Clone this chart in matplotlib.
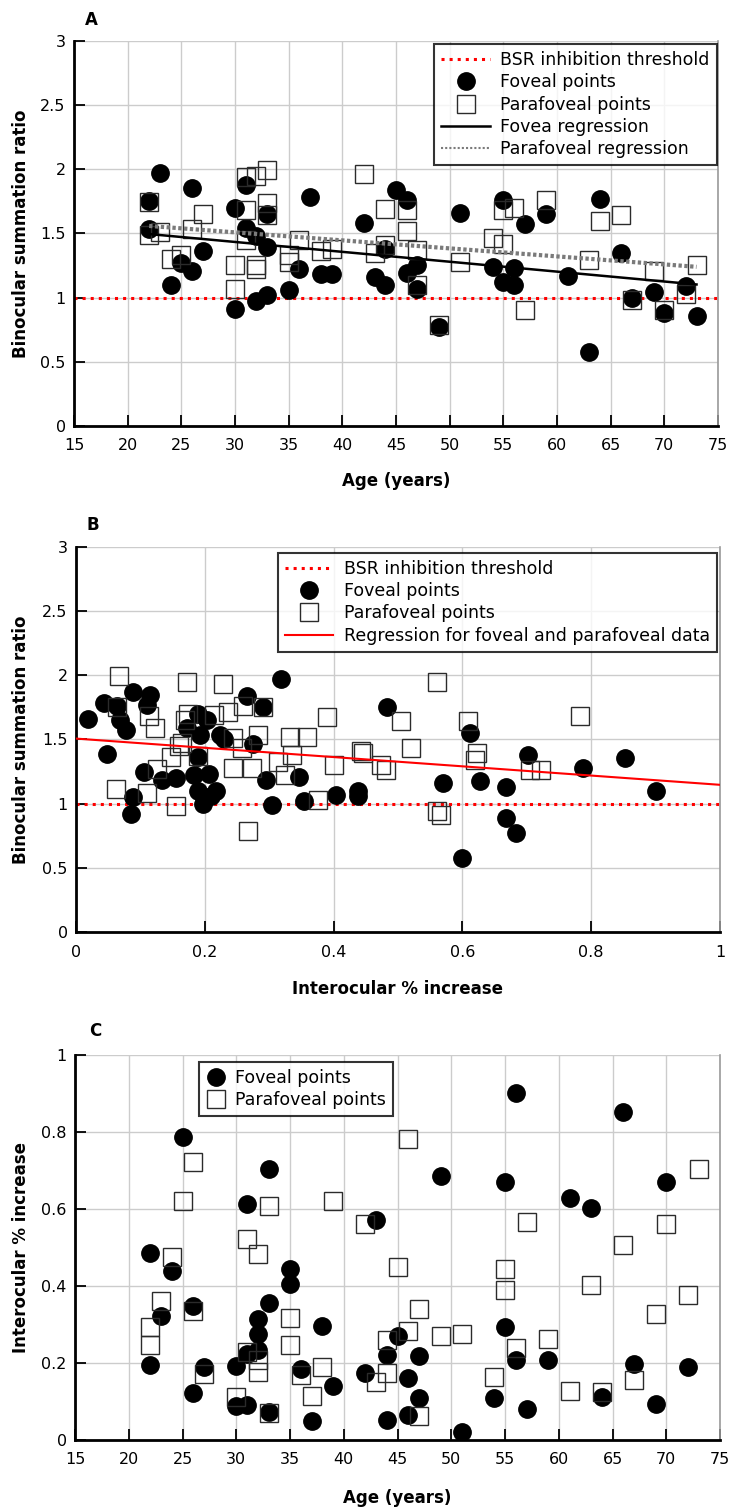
import numpy as np
import matplotlib
matplotlib.use("Agg")
import matplotlib.pyplot as plt
from matplotlib.lines import Line2D
from matplotlib.ticker import FuncFormatter

plt.rcParams['font.family'] = ['DejaVu Sans']

# ---------------- Panel A: age vs binocular summation ratio ----------------
a_fov_age = [23, 26, 22, 22, 30, 31, 33, 31, 32, 33, 27, 25, 26, 24, 30, 32, 33, 35, 36, 37,
             38, 39, 42, 43, 44, 44, 45, 46, 51, 55, 57, 59, 64, 66, 46, 47, 47, 54, 56, 55,
             56, 61, 49, 63, 67, 69, 70, 72, 73]
a_fov_bsr = [1.97, 1.85, 1.75, 1.53, 1.70, 1.875, 1.65, 1.545, 1.48, 1.39, 1.36, 1.27, 1.21, 1.10,
             0.91, 0.97, 1.02, 1.06, 1.22, 1.78, 1.18, 1.18, 1.58, 1.16, 1.10, 1.38, 1.84, 1.76,
             1.66, 1.76, 1.57, 1.65, 1.77, 1.35, 1.195, 1.25, 1.065, 1.24, 1.23, 1.125, 1.10,
             1.17, 0.77, 0.58, 1.00, 1.04, 0.88, 1.09, 0.86]
a_par_age = [22, 22, 23, 27, 26, 24, 25, 31, 32, 33, 31, 33, 33, 31, 30, 30, 32, 32, 35, 35,
             36, 38, 39, 42, 44, 44, 43, 46, 46, 47, 47, 51, 54, 55, 55, 56, 57, 59, 64, 66,
             63, 49, 67, 69, 70, 72, 73]
a_par_bsr = [1.745, 1.49, 1.51, 1.65, 1.53, 1.30, 1.33, 1.935, 1.95, 1.99, 1.68, 1.74, 1.64, 1.45,
             1.25, 1.07, 1.25, 1.22, 1.33, 1.28, 1.45, 1.36, 1.38, 1.96, 1.69, 1.41, 1.35, 1.68,
             1.52, 1.37, 1.10, 1.28, 1.46, 1.68, 1.42, 1.70, 0.90, 1.76, 1.60, 1.64, 1.29, 0.79,
             0.98, 1.21, 0.90, 1.03, 1.25]
# regression lines (intercept, slope) and age range
a_fov_reg = (1.664, -0.0077)
a_par_reg = (1.695, -0.00624)
a_reg_range = (22, 73)
bsr_threshold = 1.0

# ---------------- Panel B: interocular % increase vs BSR ----------------
b_fov_io = [0.018, 0.044, 0.063, 0.088, 0.115, 0.11, 0.069, 0.077, 0.048, 0.105, 0.089, 0.085,
            0.134, 0.156, 0.19, 0.204, 0.173, 0.192, 0.223, 0.23, 0.266, 0.29, 0.318, 0.275,
            0.189, 0.183, 0.207, 0.19, 0.218, 0.21, 0.197, 0.295, 0.346, 0.305, 0.354,
            0.483, 0.612, 0.404, 0.438, 0.438, 0.57, 0.627, 0.667, 0.702, 0.787, 0.852, 0.90,
            0.668, 0.684, 0.60]
b_fov_bsr = [1.66, 1.78, 1.76, 1.87, 1.845, 1.77, 1.65, 1.575, 1.387, 1.245, 1.05, 0.918,
             1.18, 1.20, 1.70, 1.65, 1.59, 1.53, 1.53, 1.50, 1.84, 1.755, 1.97, 1.46,
             1.36, 1.22, 1.23, 1.10, 1.10, 1.06, 1.00, 1.18, 1.21, 0.99, 1.02,
             1.755, 1.55, 1.064, 1.10, 1.06, 1.16, 1.175, 1.13, 1.38, 1.28, 1.355, 1.10,
             0.884, 0.77, 0.58]
b_par_io = [0.066, 0.172, 0.228, 0.064, 0.114, 0.122, 0.174, 0.17, 0.214, 0.236, 0.26, 0.29,
            0.164, 0.160, 0.244, 0.257, 0.283, 0.333, 0.359, 0.336, 0.148, 0.19, 0.125, 0.244,
            0.274, 0.314, 0.324, 0.062, 0.110, 0.156, 0.267, 0.376,
            0.56, 0.389, 0.505, 0.609, 0.782, 0.52, 0.443, 0.445, 0.622, 0.619, 0.40, 0.474,
            0.482, 0.705, 0.722, 0.56, 0.566]
b_par_bsr = [1.99, 1.95, 1.93, 1.75, 1.68, 1.59, 1.70, 1.65, 1.69, 1.71, 1.76, 1.75,
             1.47, 1.45, 1.51, 1.43, 1.53, 1.52, 1.52, 1.38, 1.36, 1.37, 1.27, 1.28,
             1.28, 1.32, 1.22, 1.11, 1.08, 0.98, 0.79, 1.03,
             1.95, 1.675, 1.645, 1.645, 1.683, 1.43, 1.41, 1.39, 1.39, 1.34, 1.30, 1.30,
             1.265, 1.26, 1.26, 0.94, 0.91]
b_reg = (1.506, -0.36)
b_reg_range = (0.0, 1.0)

# ---------------- Panel C: age vs interocular % increase ----------------
c_fov_age = [25, 33, 31, 43, 22, 24, 35, 35, 33, 26, 23, 32, 32, 38, 32, 31, 22, 27, 30, 36,
             42, 45, 44, 26, 39, 30, 31, 33, 37, 44,
             56, 66, 49, 55, 70, 61, 63, 47, 55, 56, 59, 67, 72, 46, 47, 46, 54, 57, 64, 69, 51]
c_fov_io = [0.788, 0.703, 0.613, 0.572, 0.485, 0.439, 0.443, 0.406, 0.356, 0.349, 0.321, 0.313,
            0.276, 0.297, 0.233, 0.224, 0.196, 0.19, 0.192, 0.185, 0.175, 0.269, 0.222, 0.121,
            0.141, 0.088, 0.092, 0.074, 0.049, 0.052,
            0.901, 0.852, 0.686, 0.669, 0.670, 0.628, 0.603, 0.218, 0.293, 0.209, 0.207, 0.198,
            0.19, 0.16, 0.11, 0.065, 0.108, 0.08, 0.112, 0.093, 0.022]
c_par_age = [26, 25, 33, 39, 42, 31, 32, 24, 23, 22, 22, 26, 35, 35, 31, 32, 32, 27, 36, 38,
             44, 44, 43, 30, 37, 33,
             46, 73, 57, 70, 66, 45, 55, 55, 63, 72, 47, 69, 46, 49, 51, 56, 59, 54, 61, 64, 67, 47]
c_par_io = [0.721, 0.620, 0.609, 0.622, 0.561, 0.521, 0.484, 0.475, 0.36, 0.293, 0.246, 0.336,
            0.316, 0.246, 0.228, 0.207, 0.177, 0.171, 0.17, 0.19, 0.26, 0.175, 0.151, 0.112,
            0.115, 0.069,
            0.782, 0.704, 0.566, 0.561, 0.506, 0.449, 0.443, 0.389, 0.402, 0.377, 0.34, 0.327,
            0.284, 0.269, 0.276, 0.239, 0.263, 0.164, 0.128, 0.125, 0.157, 0.063]

age_ticks = list(range(15, 80, 5))
bsr_ticks = [0, 0.5, 1, 1.5, 2, 2.5, 3]
io_ticks_b = [0, 0.2, 0.4, 0.6, 0.8, 1]
io_ticks_c = [0, 0.2, 0.4, 0.6, 0.8, 1]

# ---------------- figure ----------------
W, H = 733, 1511
fig = plt.figure(figsize=(W / 100, H / 100), dpi=100)


def axes_px(l, t, r, b):
    return fig.add_axes([l / W, 1 - b / H, (r - l) / W, (b - t) / H])


axA = axes_px(74, 40.7, 718, 426)
axB = axes_px(76, 546.7, 720, 932)
axC = axes_px(75, 1055, 720, 1440)

fmt = FuncFormatter(lambda v, p: "%g" % v)

CIRC = dict(linestyle='none', marker='o', ms=12.5, color='black', zorder=4)
SQR = dict(linestyle='none', marker='s', ms=13, mfc='none', mec='#2b2b2b', mew=1.0, zorder=5)
TICKFS = 11.5
LABFS = 12
LEGFS = 12.5


def style(ax, xt, yt, xlim, ylim):
    ax.set_xlim(*xlim)
    ax.set_ylim(*ylim)
    ax.set_xticks(xt)
    ax.set_yticks(yt)
    ax.xaxis.set_major_formatter(fmt)
    ax.yaxis.set_major_formatter(fmt)
    ax.grid(True, color='#cccccc', lw=1.0, zorder=0)
    ax.set_axisbelow(True)
    for s in ['left', 'bottom']:
        ax.spines[s].set_linewidth(2.0)
        ax.spines[s].set_color('black')
    ax.spines['top'].set_visible(False)
    ax.spines['right'].set_color('#9a9a9a')
    ax.spines['right'].set_linewidth(1.2)
    ax.tick_params(axis='both', direction='in', length=8, width=1.3, labelsize=TICKFS,
                   colors='black')
    ax.tick_params(axis='x', pad=9)
    ax.tick_params(axis='y', pad=6)


# ---- Panel A ----
style(axA, age_ticks, bsr_ticks, (15, 75), (0, 3))
axA.axhline(bsr_threshold, color='red', ls=':', lw=2.2, zorder=2)
xr = np.array(a_reg_range, dtype=float)
axA.plot(xr, a_fov_reg[0] + a_fov_reg[1] * xr, color='black', lw=1.8, zorder=6)
axA.plot(xr, a_par_reg[0] + a_par_reg[1] * xr, color='#7a7a7a', lw=3, ls=(0, (0.8, 0.6)), zorder=6)
axA.plot(a_fov_age, a_fov_bsr, **CIRC)
axA.plot(a_par_age, a_par_bsr, **SQR)
axA.set_xlabel('Age (years)', fontsize=LABFS, fontweight='bold')
axA.set_ylabel('Binocular summation ratio', fontsize=LABFS, fontweight='bold')
axA.xaxis.set_label_coords(0.5, -0.12)
axA.yaxis.set_label_coords(-0.068, 0.5)

hA = [Line2D([], [], color='red', ls=':', lw=2.2),
      Line2D([], [], **{k: v for k, v in CIRC.items() if k != 'zorder'}),
      Line2D([], [], **{k: v for k, v in SQR.items() if k != 'zorder'}),
      Line2D([], [], color='black', lw=1.8),
      Line2D([], [], color='#7a7a7a', lw=1.5, ls=(0, (1, 1)))]
legA = axA.legend(hA, ['BSR inhibition threshold', 'Foveal points', 'Parafoveal points',
                       'Fovea regression', 'Parafoveal regression'],
                  loc='upper right', bbox_to_anchor=(0.998, 0.991), borderaxespad=0,
                  fontsize=LEGFS, frameon=True, fancybox=False, edgecolor='black',
                  handlelength=2.8, labelspacing=0.25, borderpad=0.4, handletextpad=0.6)
legA.get_frame().set_linewidth(1.5)
legA.set_zorder(10)

# ---- Panel B ----
style(axB, io_ticks_b, bsr_ticks, (0, 1), (0, 3))
axB.axhline(bsr_threshold, color='red', ls=':', lw=2.2, zorder=2)
xb = np.array(b_reg_range, dtype=float)
axB.plot(xb, b_reg[0] + b_reg[1] * xb, color='red', lw=1.5, zorder=6)
axB.plot(b_fov_io, b_fov_bsr, **CIRC)
axB.plot(b_par_io, b_par_bsr, **SQR)
axB.set_xlabel('Interocular % increase', fontsize=LABFS, fontweight='bold')
axB.set_ylabel('Binocular summation ratio', fontsize=LABFS, fontweight='bold')
axB.xaxis.set_label_coords(0.5, -0.125)
axB.yaxis.set_label_coords(-0.071, 0.5)
hB = [Line2D([], [], color='red', ls=':', lw=2.2),
      Line2D([], [], **{k: v for k, v in CIRC.items() if k != 'zorder'}),
      Line2D([], [], **{k: v for k, v in SQR.items() if k != 'zorder'}),
      Line2D([], [], color='red', lw=1.5)]
legB = axB.legend(hB, ['BSR inhibition threshold', 'Foveal points', 'Parafoveal points',
                       'Regression for foveal and parafoveal data'],
                  loc='upper right', bbox_to_anchor=(0.995, 0.984), borderaxespad=0,
                  fontsize=LEGFS, frameon=True, fancybox=False, edgecolor='black',
                  handlelength=2.8, labelspacing=0.25, borderpad=0.4, handletextpad=0.6)
legB.get_frame().set_linewidth(1.5)
legB.set_zorder(10)

# ---- Panel C ----
style(axC, age_ticks, io_ticks_c, (15, 75), (0, 1))
axC.plot(c_fov_age, c_fov_io, **CIRC)
axC.plot(c_par_age, c_par_io, **SQR)
axC.set_xlabel('Age (years)', fontsize=LABFS, fontweight='bold')
axC.set_ylabel('Interocular % increase', fontsize=LABFS, fontweight='bold')
axC.xaxis.set_label_coords(0.5, -0.128)
axC.yaxis.set_label_coords(-0.07, 0.5)
hC = [Line2D([], [], **{k: v for k, v in CIRC.items() if k != 'zorder'}),
      Line2D([], [], **{k: v for k, v in SQR.items() if k != 'zorder'})]
legC = axC.legend(hC, ['Foveal points', 'Parafoveal points'],
                  loc='upper left', bbox_to_anchor=(0.192, 0.982), borderaxespad=0,
                  fontsize=LEGFS, frameon=True, fancybox=False, edgecolor='black',
                  handlelength=1.2, labelspacing=0.25, borderpad=0.4, handletextpad=0.5)
legC.get_frame().set_linewidth(1.5)
legC.set_zorder(10)

# panel letters
fig.text(85 / W, 1 - 25 / H, 'A', fontsize=12, fontweight='bold', ha='left', va='baseline')
fig.text(87 / W, 1 - 530 / H, 'B', fontsize=12, fontweight='bold', ha='left', va='baseline')
fig.text(89 / W, 1 - 1036 / H, 'C', fontsize=12, fontweight='bold', ha='left', va='baseline')

fig.savefig('out.png', dpi=100)
